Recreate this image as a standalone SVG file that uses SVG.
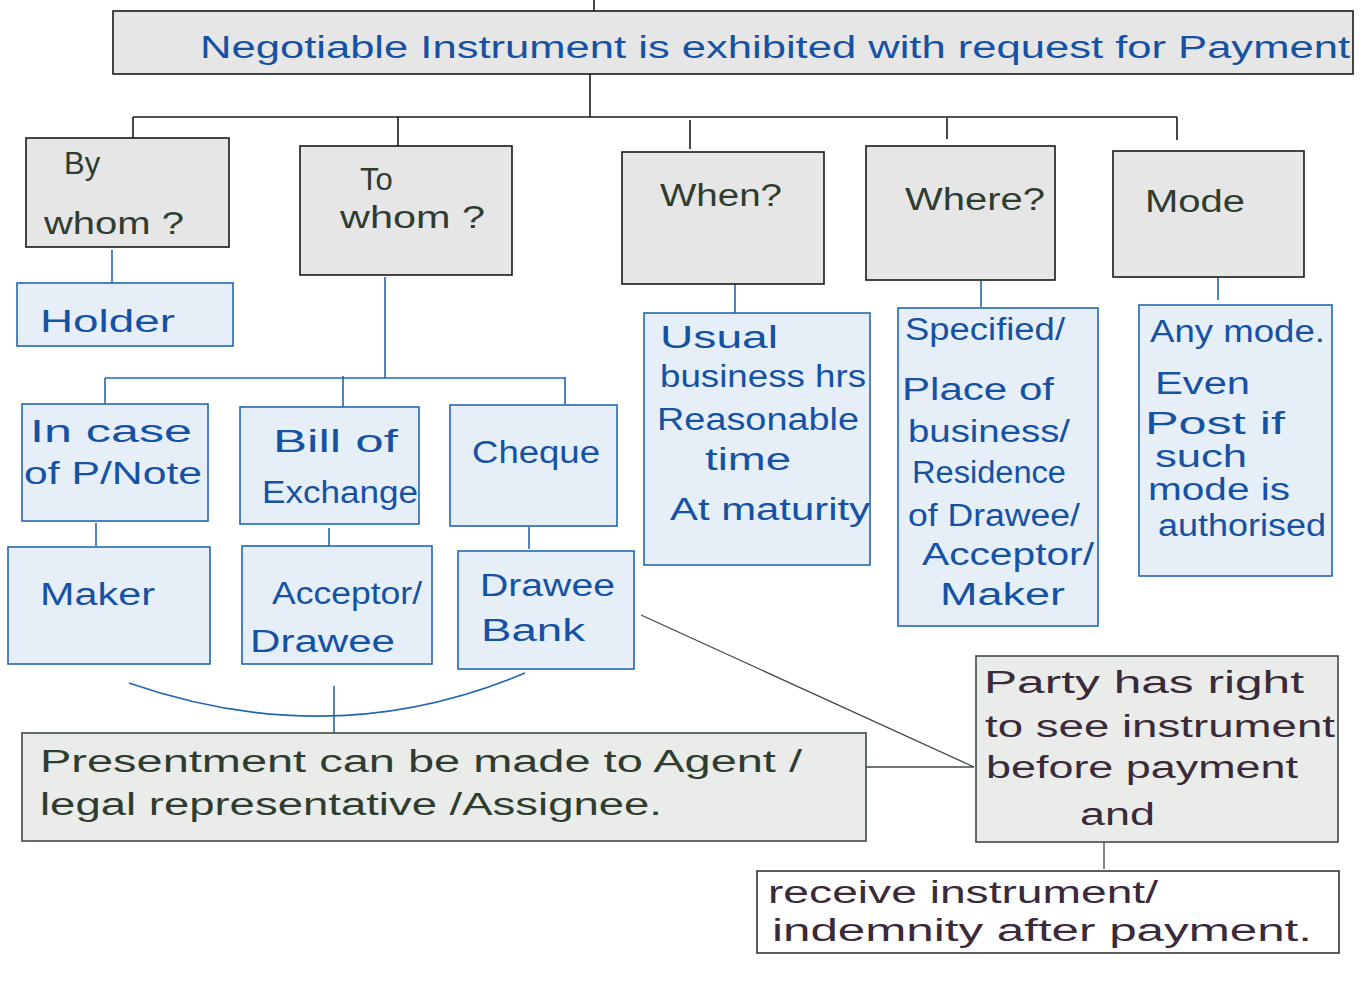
<svg xmlns="http://www.w3.org/2000/svg" width="1368" height="987" viewBox="0 0 1368 987">
<style>
.g{fill:#e6e6e6;stroke:#1a1a1a;stroke-width:1.6}
.b{fill:#e6eef7;stroke:#2466b2;stroke-width:1.6}
.s{fill:#eaece9;stroke:#3f4a41;stroke-width:1.6}
.w{fill:#ffffff;stroke:#3a3340;stroke-width:1.6}
.kl{stroke:#1a1a1a;stroke-width:1.6;fill:none}
.bl{stroke:#2466b2;stroke-width:1.6;fill:none}
.dl{stroke:#3f4a41;stroke-width:1.3;fill:none}
text{font-family:"Liberation Sans","DejaVu Sans",sans-serif;font-size:31px}
.tb{fill:#1552a4}
.tg{fill:#2f3d31}
.tp{fill:#3a2a3a}
</style>
<rect width="1368" height="987" fill="#ffffff"/>
<g id="connectors">
<line class="kl" x1="594" y1="0" x2="594" y2="16"/>
<line class="kl" x1="590" y1="74" x2="590" y2="117"/>
<line class="kl" x1="133" y1="117" x2="1177" y2="117"/>
<line class="kl" x1="133" y1="117" x2="133" y2="138"/>
<line class="kl" x1="398" y1="117" x2="398" y2="150"/>
<line class="kl" x1="690" y1="120" x2="690" y2="149"/>
<line class="kl" x1="947" y1="118" x2="947" y2="139"/>
<line class="kl" x1="1177" y1="117" x2="1177" y2="140"/>
<line class="bl" x1="112" y1="250" x2="112" y2="283"/>
<line class="bl" x1="385" y1="277" x2="385" y2="378"/>
<line class="bl" x1="105" y1="378" x2="565" y2="378"/>
<line class="bl" x1="105" y1="378" x2="105" y2="404"/>
<line class="bl" x1="343" y1="376" x2="343" y2="408"/>
<line class="bl" x1="565" y1="377" x2="565" y2="404"/>
<line class="bl" x1="96" y1="523" x2="96" y2="546"/>
<line class="bl" x1="329" y1="528" x2="329" y2="550"/>
<line class="bl" x1="529" y1="527" x2="529" y2="549"/>
<line class="bl" x1="735" y1="284" x2="735" y2="313"/>
<line class="bl" x1="981" y1="281" x2="981" y2="307"/>
<line class="bl" x1="1218" y1="274" x2="1218" y2="300"/>
<path class="bl" d="M129,683 Q333,754 525,673"/>
<line class="bl" x1="334" y1="686" x2="334" y2="740"/>
<line class="dl" x1="866" y1="767" x2="974" y2="767"/>
<line class="dl" x1="641" y1="615" x2="974" y2="767"/>
<line class="dl" x1="1104" y1="843" x2="1104" y2="869"/>
</g>
<g id="root"><rect class="g" x="113" y="11" width="1240" height="63"/>
<text class="tb" x="200" y="58" font-size="34" textLength="1150" lengthAdjust="spacingAndGlyphs">Negotiable  Instrument is exhibited with request for Payment</text></g>
<g id="bywhom"><rect class="g" x="26" y="138" width="203" height="109"/>
<text class="tg" x="64" y="174" font-size="33">By</text><text class="tg" x="44" y="234" textLength="140" lengthAdjust="spacingAndGlyphs">whom ?</text></g>
<g id="towhom"><rect class="g" x="300" y="146" width="212" height="129"/>
<text class="tg" x="360" y="190">To</text><text class="tg" x="340" y="228" textLength="145" lengthAdjust="spacingAndGlyphs">whom ?</text></g>
<g id="when"><rect class="g" x="622" y="152" width="202" height="132"/>
<text class="tg" x="660" y="206" textLength="122" lengthAdjust="spacingAndGlyphs">When?</text></g>
<g id="where"><rect class="g" x="866" y="146" width="189" height="134"/>
<text class="tg" x="905" y="210" textLength="140" lengthAdjust="spacingAndGlyphs">Where?</text></g>
<g id="mode"><rect class="g" x="1113" y="151" width="191" height="126"/>
<text class="tg" x="1145" y="212" textLength="100" lengthAdjust="spacingAndGlyphs">Mode</text></g>
<g id="holder"><rect class="b" x="17" y="283" width="216" height="63"/>
<text class="tb" x="40" y="332" font-size="34" textLength="135" lengthAdjust="spacingAndGlyphs">Holder</text></g>
<g id="pnote"><rect class="b" x="22" y="404" width="186" height="117"/>
<text class="tb" x="30" y="442" textLength="162" lengthAdjust="spacingAndGlyphs">In  case</text><text class="tb" x="24" y="484" textLength="178" lengthAdjust="spacingAndGlyphs">of  P/Note</text></g>
<g id="bill"><rect class="b" x="240" y="407" width="179" height="117"/>
<text class="tb" x="273" y="452" textLength="125" lengthAdjust="spacingAndGlyphs">Bill of</text><text class="tb" x="262" y="503" textLength="156" lengthAdjust="spacingAndGlyphs">Exchange</text></g>
<g id="cheque"><rect class="b" x="450" y="405" width="167" height="121"/>
<text class="tb" x="472" y="463" textLength="128" lengthAdjust="spacingAndGlyphs">Cheque</text></g>
<g id="maker"><rect class="b" x="8" y="547" width="202" height="117"/>
<text class="tb" x="40" y="605" textLength="115" lengthAdjust="spacingAndGlyphs">Maker</text></g>
<g id="acceptor"><rect class="b" x="242" y="546" width="190" height="118"/>
<text class="tb" x="272" y="604" textLength="150" lengthAdjust="spacingAndGlyphs">Acceptor/</text><text class="tb" x="250" y="652" textLength="145" lengthAdjust="spacingAndGlyphs">Drawee</text></g>
<g id="draweebank"><rect class="b" x="458" y="551" width="176" height="118"/>
<text class="tb" x="480" y="596" textLength="135" lengthAdjust="spacingAndGlyphs">Drawee</text><text class="tb" x="481" y="641" textLength="104" lengthAdjust="spacingAndGlyphs">Bank</text></g>
<g id="usual"><rect class="b" x="644" y="313" width="226" height="252"/>
<text class="tb" x="660" y="348" textLength="118" lengthAdjust="spacingAndGlyphs">Usual</text>
<text class="tb" x="660" y="387" textLength="206" lengthAdjust="spacingAndGlyphs">business hrs</text>
<text class="tb" x="657" y="430" textLength="202" lengthAdjust="spacingAndGlyphs">Reasonable</text>
<text class="tb" x="705" y="470" textLength="86" lengthAdjust="spacingAndGlyphs">time</text>
<text class="tb" x="670" y="520" textLength="200" lengthAdjust="spacingAndGlyphs">At maturity</text></g>
<g id="specified"><rect class="b" x="898" y="308" width="200" height="318"/>
<text class="tb" x="905" y="340" textLength="160" lengthAdjust="spacingAndGlyphs">Specified/</text>
<text class="tb" x="902" y="400" textLength="152" lengthAdjust="spacingAndGlyphs">Place  of</text>
<text class="tb" x="908" y="442" textLength="162" lengthAdjust="spacingAndGlyphs">business/</text>
<text class="tb" x="912" y="483" textLength="154" lengthAdjust="spacingAndGlyphs">Residence</text>
<text class="tb" x="908" y="526" textLength="172" lengthAdjust="spacingAndGlyphs">of Drawee/</text>
<text class="tb" x="922" y="565" textLength="172" lengthAdjust="spacingAndGlyphs">Acceptor/</text>
<text class="tb" x="940" y="605" textLength="125" lengthAdjust="spacingAndGlyphs">Maker</text></g>
<g id="anymode"><rect class="b" x="1139" y="305" width="193" height="271"/>
<text class="tb" x="1150" y="342" textLength="175" lengthAdjust="spacingAndGlyphs">Any mode.</text>
<text class="tb" x="1155" y="394" font-size="30" textLength="95" lengthAdjust="spacingAndGlyphs">Even</text>
<text class="tb" x="1145" y="434" font-size="29" textLength="140" lengthAdjust="spacingAndGlyphs">Post  if</text>
<text class="tb" x="1155" y="467" font-size="26" textLength="92" lengthAdjust="spacingAndGlyphs">such</text>
<text class="tb" x="1148" y="500" font-size="26" textLength="142" lengthAdjust="spacingAndGlyphs">mode is</text>
<text class="tb" x="1158" y="536" font-size="29" textLength="168" lengthAdjust="spacingAndGlyphs">authorised</text></g>
<g id="presentment"><rect class="s" x="22" y="733" width="844" height="108"/>
<text class="tg" x="40" y="772" textLength="762" lengthAdjust="spacingAndGlyphs">Presentment  can  be  made  to  Agent /</text>
<text class="tg" x="40" y="815" textLength="622" lengthAdjust="spacingAndGlyphs">legal  representative /Assignee.</text></g>
<g id="party"><rect class="s" x="976" y="656" width="362" height="186"/>
<text class="tp" x="984" y="693" textLength="320" lengthAdjust="spacingAndGlyphs">Party has right</text>
<text class="tp" x="985" y="737" textLength="350" lengthAdjust="spacingAndGlyphs">to  see  instrument</text>
<text class="tp" x="986" y="778" textLength="312" lengthAdjust="spacingAndGlyphs">before payment</text>
<text class="tp" x="1080" y="825" textLength="75" lengthAdjust="spacingAndGlyphs">and</text></g>
<g id="receive"><rect class="w" x="757" y="871" width="582" height="82"/>
<text class="tp" x="768" y="903" textLength="390" lengthAdjust="spacingAndGlyphs">receive  instrument/</text>
<text class="tp" x="772" y="941" textLength="540" lengthAdjust="spacingAndGlyphs">indemnity  after  payment.</text></g>
</svg>
